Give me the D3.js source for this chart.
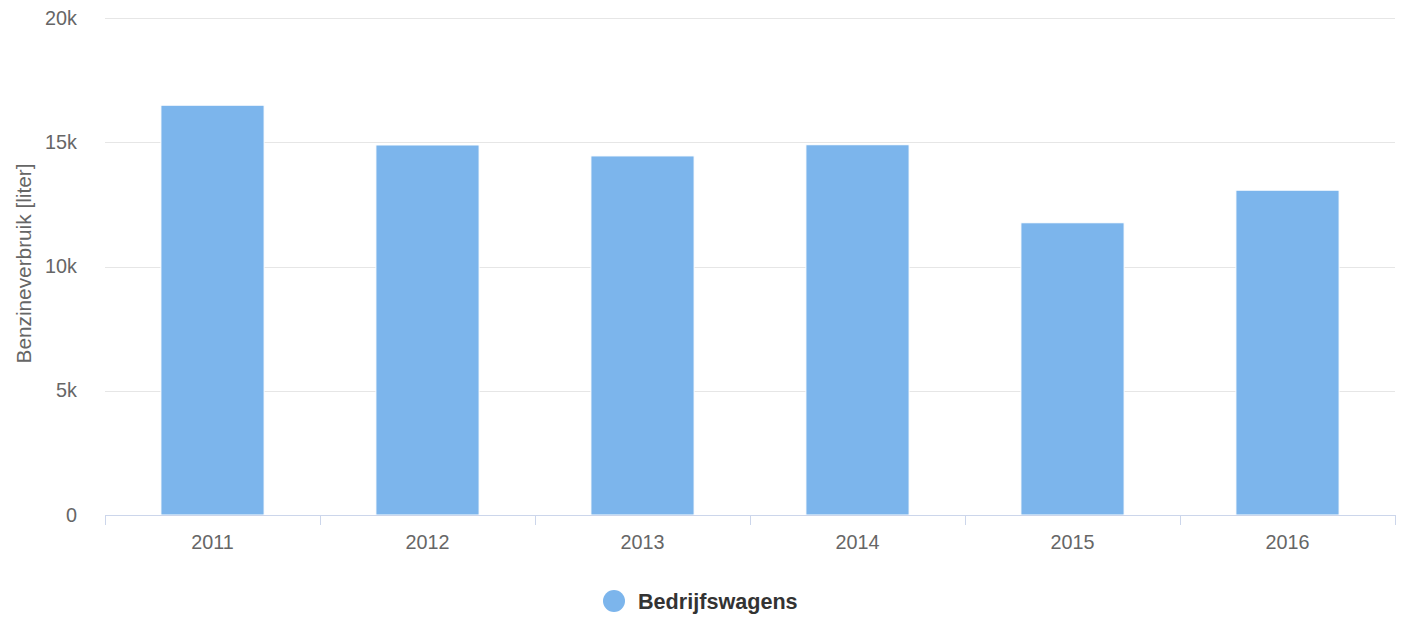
<!DOCTYPE html>
<html>
<head>
<meta charset="utf-8">
<script src="https://cdn.jsdelivr.net/npm/d3@7"></script>
<style>
  html, body { margin: 0; padding: 0; background: #fff; }
  svg { display: block; font-family: "Liberation Sans", Arial, Helvetica, sans-serif; }
</style>
</head>
<body>
<svg id="chart" width="1404" height="619"></svg>
<script>
// Yearly petrol use of company vans, in litres
const years = ["2011", "2012", "2013", "2014", "2015", "2016"];
const petrolLitres = [16490, 14890, 14450, 14900, 11760, 13070];
const yTicks = [0, 5000, 10000, 15000, 20000];
const yTickLabels = ["0", "5k", "10k", "15k", "20k"];
const seriesName = "Bedrijfswagens";
const yTitle = "Benzineverbruik [liter]";

const svg = d3.select("#chart");
const plot = { left: 105, right: 1395, top: 18, bottom: 515 };

const x = d3.scaleBand().domain(years).range([plot.left, plot.right]);
const y = d3.scaleLinear().domain([0, 20000]).range([plot.bottom, plot.top]);

// horizontal grid
svg.append("g")
  .selectAll("line")
  .data(yTicks.slice(1))
  .join("line")
  .attr("x1", plot.left).attr("x2", plot.right)
  .attr("y1", d => Math.round(y(d)) + 0.5).attr("y2", d => Math.round(y(d)) + 0.5)
  .attr("stroke", "#e6e6e6").attr("stroke-width", 1);

// y tick labels
svg.append("g")
  .selectAll("text")
  .data(yTicks)
  .join("text")
  .attr("x", 77)
  .attr("y", d => y(d) + 6.5)
  .attr("text-anchor", "end")
  .attr("fill", "#666")
  .attr("font-size", 19.8)
  .text((d, i) => yTickLabels[i]);

// y axis title
svg.append("text")
  .attr("transform", `translate(31, ${(plot.top + plot.bottom) / 2 - 3}) rotate(-90)`)
  .attr("text-anchor", "middle")
  .attr("fill", "#666")
  .attr("font-size", 20.8)
  .text(yTitle);

// bars: 60% group width, 80% of that for the bar
const bw = x.bandwidth() * 0.48;
svg.append("g")
  .selectAll("rect")
  .data(years.map((yr, i) => ({ yr, v: petrolLitres[i] })))
  .join("rect")
  .attr("x", d => x(d.yr) + (x.bandwidth() - bw) / 2)
  .attr("y", d => y(d.v))
  .attr("width", bw)
  .attr("height", d => y(0) - y(d.v))
  .attr("fill", "#7cb5ec")
  .attr("stroke", "#fff")
  .attr("stroke-width", 1);

// x axis line and ticks
const xAxis = svg.append("g");
xAxis.append("line")
  .attr("x1", plot.left).attr("x2", plot.right + 1)
  .attr("y1", plot.bottom + 0.5).attr("y2", plot.bottom + 0.5)
  .attr("stroke", "#ccd6eb").attr("stroke-width", 1);
const tickPos = years.map(yr => x(yr)).concat([x.range()[1]]);
xAxis.selectAll("line.tick")
  .data(tickPos)
  .join("line")
  .attr("class", "tick")
  .attr("x1", d => Math.round(d) + 0.5).attr("x2", d => Math.round(d) + 0.5)
  .attr("y1", plot.bottom).attr("y2", plot.bottom + 10)
  .attr("stroke", "#ccd6eb").attr("stroke-width", 1);
xAxis.selectAll("text")
  .data(years)
  .join("text")
  .attr("x", d => x(d) + x.bandwidth() / 2)
  .attr("y", 549)
  .attr("text-anchor", "middle")
  .attr("fill", "#666")
  .attr("font-size", 19.8)
  .text(d => d);

// legend
const legend = svg.append("g").attr("transform", "translate(614, 601)");
legend.append("circle").attr("r", 11).attr("fill", "#7cb5ec");
legend.append("text")
  .attr("x", 24).attr("y", 7.5)
  .attr("fill", "#333")
  .attr("font-size", 21.6)
  .attr("font-weight", "bold")
  .text(seriesName);
</script>
</body>
</html>
